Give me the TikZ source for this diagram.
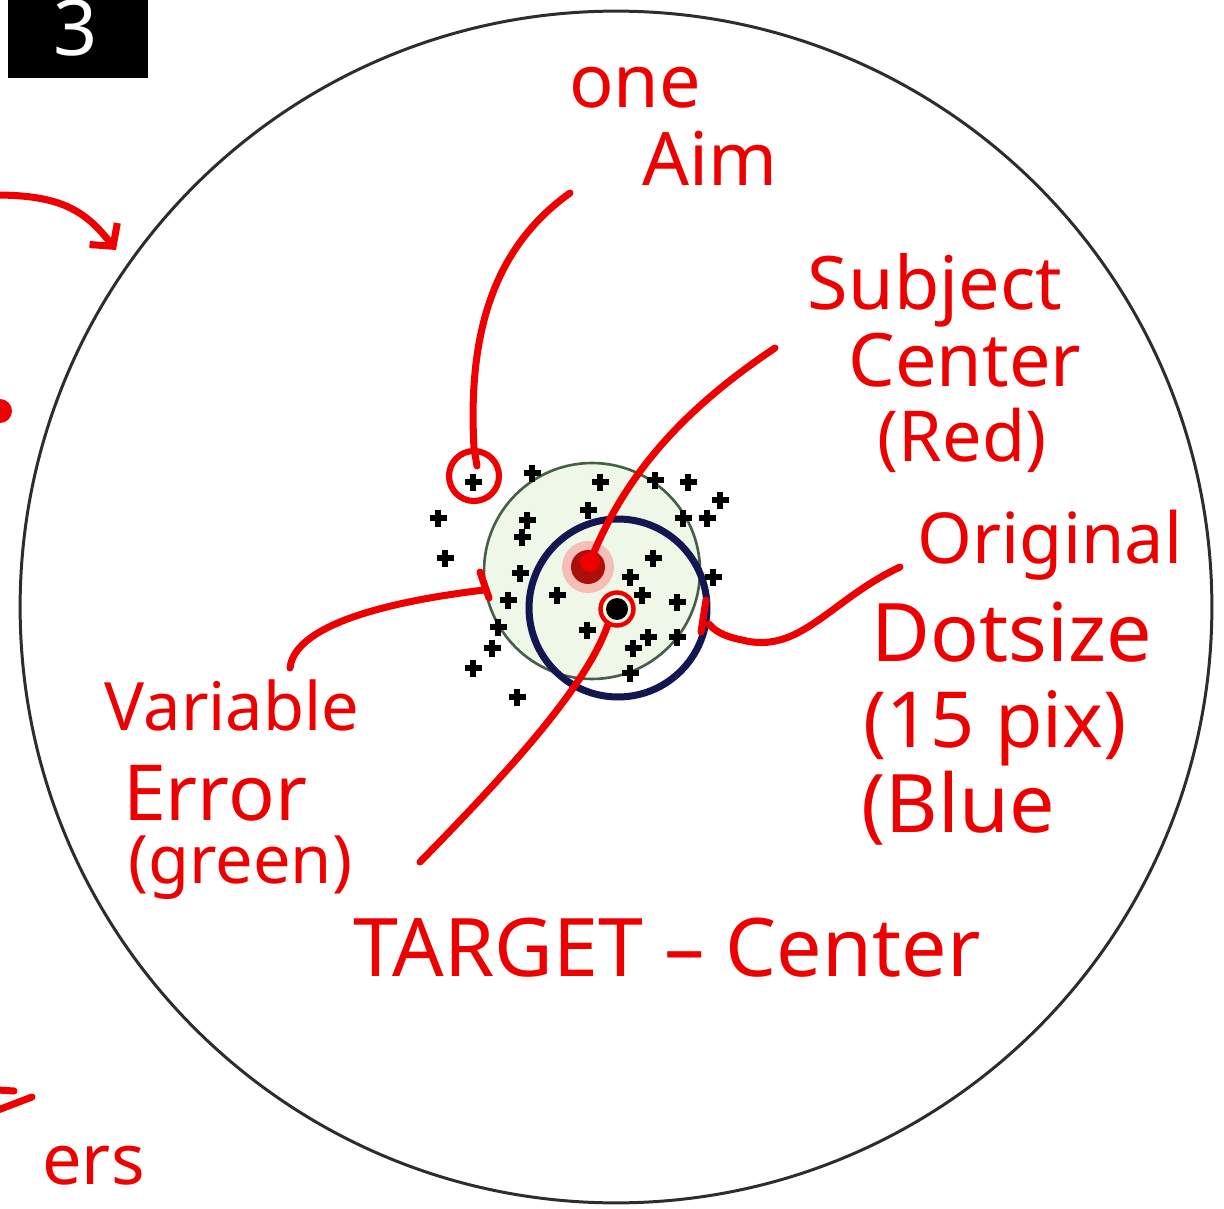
\documentclass[tikz,border=0pt]{standalone}
\usepackage{fontspec}
\setmainfont{Noto Sans}
\usetikzlibrary{arrows.meta}
\definecolor{annred}{RGB}{238,0,0}
\definecolor{navy}{RGB}{20,22,80}
\definecolor{ringgreen}{RGB}{70,95,70}
\definecolor{greenfill}{RGB}{238,247,232}
\definecolor{dotred}{RGB}{170,15,10}
\definecolor{halo}{RGB}{245,190,185}
\definecolor{ringgray}{RGB}{45,45,45}
\begin{document}
\begin{tikzpicture}[x=0.02cm,y=-0.02cm,
  hand/.style={text=annred, inner sep=0pt, font=\fontsize{44}{50}\selectfont},
  redline/.style={draw=annred, line width=4pt, line cap=round, line join=round},
  plusmark/.pic={\draw[line width=3pt] (-8.5,0)--(8.5,0) (0,-8.5)--(0,8.5);}
]
\useasboundingbox (0,0) rectangle (1224,1209);
\fill[white] (0,0) rectangle (1224,1209);

% big target circle
\node[circle, draw=ringgray, line width=1.7pt, minimum size=23.84cm, inner sep=0pt] (target) at (616,607) {};

% badge
\node[fill=black, minimum width=2.8cm, minimum height=1.66cm, inner sep=0pt, anchor=north west] (badge) at (8,-5) {};
\node[text=white, inner sep=0pt, font=\fontsize{44}{44}\selectfont\bfseries] (three) at (76,28) {3};

% variable error (green) and original dot size (blue)
\node[circle, draw=ringgreen, line width=1.5pt, fill=greenfill, minimum size=4.32cm, inner sep=0pt] (varerr) at (592,571) {};
\node[circle, draw=navy, line width=4pt, minimum size=3.56cm, inner sep=0pt] (dotsize) at (618,608) {};

% subject center (red) and target center (black)
\node[circle, fill=halo, minimum size=1.04cm, inner sep=0pt] (halo) at (588,567) {};
\node[circle, fill=dotred, minimum size=0.68cm, inner sep=0pt] (subj) at (588,567) {};
\node[circle, fill=black, minimum size=0.44cm, inner sep=0pt] (blackdot) at (617,609) {};

% aim marks
\foreach \p in {(473,482),(438,518),(445,558),(532,473),(600,482),(655,480),(688,482),(720,500),
  (527,520),(522,537),(588,510),(683,518),(707,518),(520,573),(508,600),(557,595),(653,558),
  (630,577),(642,595),(677,602),(713,577),(587,630),(648,637),(633,648),(677,637),(498,627),
  (492,648),(473,668),(517,697),(630,673)}
  \pic at \p {plusmark};

% red annotations: marks round points
\node[circle, draw=annred, line width=3.5pt, minimum size=1.0cm, inner sep=0pt] (aimcirc) at (474,476) {};
\node[circle, draw=annred, line width=2.5pt, minimum size=0.66cm, inner sep=0pt] (bdring) at (617,609) {};
\fill[annred] (590,562) circle (10);

% labels
\node[hand, font=\fontsize{42}{50}\selectfont] (one) at (635,88) {one};
\node[hand, font=\fontsize{42}{50}\selectfont] (aim) at (710,158) {Aim};
\node[hand, font=\fontsize{42}{50}\selectfont] (subject) at (935,290) {Subject};
\node[hand, font=\fontsize{42}{50}\selectfont] (center) at (965,360) {Center};
\node[hand, font=\fontsize{40}{50}\selectfont] (red) at (962,440) {(Red)};
\node[hand, font=\fontsize{40}{50}\selectfont] (orig) at (1050,545) {Original};
\node[hand, font=\fontsize{46}{50}\selectfont] (dots) at (1012,632) {Dotsize};
\node[hand] (pix) at (995,728) {(15 pix)};
\node[hand, font=\fontsize{46}{50}\selectfont] (blue) at (958,808) {(Blue};
\node[hand, font=\fontsize{38}{44}\selectfont] (variable) at (232,705) {Variable};
\node[hand, font=\fontsize{44}{50}\selectfont] (error) at (215,793) {Error};
\node[hand, font=\fontsize{38}{44}\selectfont] (green) at (240,868) {(green)};
\node[hand, font=\fontsize{46}{50}\selectfont] (tc) at (667,948) {TARGET -- Center};
\node[hand, anchor=base west, font=\fontsize{40}{44}\selectfont] (ers) at (42,1184) {ers};

% connectors
\coordinate (aimstart) at (570,193);
\draw[redline] (aimstart) .. controls (490,250) and (468,340) .. (aimcirc.north) -- ++(3,18);

\coordinate (subjstart) at (775,348);
\draw[redline] (subjstart) .. controls (690,405) and (625,470) .. (subj.center);

\coordinate (varstart) at (290,668);
\draw[redline] (varstart) .. controls (295,622) and (400,600) .. (varerr.190);
\draw[redline] (480,572) -- (489,598);

\coordinate (tcstart) at (420,862);
\draw[redline] (tcstart) .. controls (500,780) and (585,690) .. (bdring.240);

\coordinate (dsstart) at (900,567);
\draw[redline] (dsstart) .. controls (830,600) and (800,655) .. (742,640)
  .. controls (722,636) and (714,630) .. (dotsize.-10);
\draw[redline] (706,600) -- (701,632);

\coordinate (arrstart) at (-5,195);
\coordinate (arrtip) at (116,250);
\draw[redline, -{Straight Barb[length=9pt,width=20pt]}] (arrstart) .. controls (60,195) and (85,210) .. (arrtip);

% fragments at the left edge
\fill[annred] (0,411) circle (12);
\draw[redline] (-2,1090) -- (14,1091);
\draw[redline] (-2,1110) -- (32,1097);
\end{tikzpicture}
\end{document}
